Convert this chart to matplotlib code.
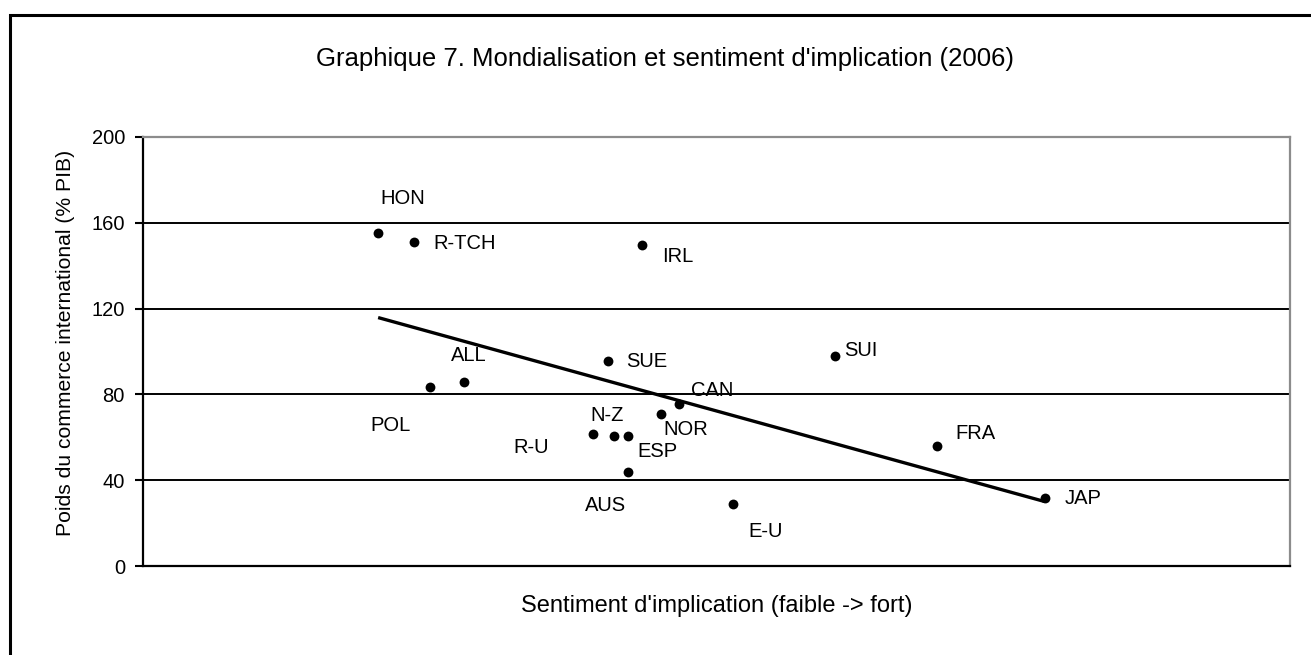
import matplotlib
matplotlib.use("Agg")
import matplotlib.pyplot as plt
from matplotlib.patches import Rectangle
import numpy as np

plt.rcParams['font.family'] = ['Liberation Sans', 'DejaVu Sans']

# ---- data ----
countries = ["HON", "R-TCH", "POL", "ALL", "R-U", "N-Z", "ESP", "AUS",
             "SUE", "IRL", "NOR", "CAN", "E-U", "SUI", "FRA", "JAP"]
sentiment = [20.5, 23.6, 25.0, 28.0, 39.2, 41.1, 42.3, 42.3,
             40.5, 43.5, 45.2, 46.7, 51.4, 60.3, 69.2, 78.6]
commerce = [155.2, 151.0, 83.4, 85.8, 61.5, 60.6, 60.6, 43.8,
            95.6, 149.6, 70.9, 75.5, 28.9, 97.9, 55.9, 31.7]
y_ticks = [0, 40, 80, 120, 160, 200]

title = "Graphique 7. Mondialisation et sentiment d'implication (2006)"
xlabel = "Sentiment d'implication (faible -> fort)"
ylabel = "Poids du commerce international (% PIB)"

# label offsets (points) relative to each marker
label_offsets = {
    "HON": (18, 25), "R-TCH": (37, -0.7), "POL": (-28, -28), "ALL": (3.6, 18.7),
    "R-U": (-44, -9.4), "N-Z": (-5, 15), "ESP": (21, -11.5), "AUS": (-16, -24),
    "SUE": (28.5, -0.7), "IRL": (25.5, -8), "NOR": (17.5, -11), "CAN": (24.5, 10),
    "E-U": (24, -19.5), "SUI": (19, 4.3), "FRA": (28, 9.4), "JAP": (28, -0.7),
}

fig = plt.figure(figsize=(13.11, 6.55), dpi=100)
fig.patch.set_facecolor('white')

# outer chart-area frame (extends past right/bottom edges)
fig.patches.append(Rectangle((10 / 1311, -0.05), 1.2, (640 / 655) + 0.05,
                             transform=fig.transFigure, fill=False,
                             edgecolor='black', linewidth=2.2, zorder=0))

ax = fig.add_axes([143 / 1311, 89 / 655, 1147 / 1311, 429 / 655])
ax.set_xlim(0, 100)
ax.set_ylim(0, 200)
ax.set_yticks(y_ticks)
ax.set_xticks([])
ax.tick_params(axis='y', direction='out', length=6, width=1.5, pad=7,
               labelsize=14.5, colors='black')

for yv in y_ticks[1:-1]:
    ax.axhline(yv, color='black', linewidth=1.4, zorder=1)

ax.spines['left'].set_color('black')
ax.spines['left'].set_linewidth(1.6)
ax.spines['bottom'].set_color('black')
ax.spines['bottom'].set_linewidth(1.6)
ax.spines['top'].set_color('#8c8c8c')
ax.spines['top'].set_linewidth(1.6)
ax.spines['right'].set_color('#8c8c8c')
ax.spines['right'].set_linewidth(1.6)

ax.scatter(sentiment, commerce, s=50, color='black', zorder=3, linewidths=0)

# linear trend
xs = np.array(sentiment)
ys = np.array(commerce)
coef = np.polyfit(xs, ys, 1)
xl = np.array([xs.min(), xs.max()])
ax.plot(xl, np.polyval(coef, xl), color='black', linewidth=2.4, zorder=2,
        solid_capstyle='butt')

for name, xv, yv in zip(countries, sentiment, commerce):
    dx, dy = label_offsets[name]
    ax.annotate(name, (xv, yv), xytext=(dx, dy), textcoords='offset points',
                ha='center', va='center', fontsize=14.5, color='black', zorder=4)

ax.text(0.5, -0.093, xlabel, transform=ax.transAxes, ha='center', va='center',
        fontsize=17)
ax.text(-0.068, 0.52, ylabel, transform=ax.transAxes, ha='center', va='center',
        rotation=90, fontsize=15.2)

fig.text(665 / 1311, (655 - 59) / 655, title, ha='center', va='center',
         fontsize=18.5)

fig.savefig("out.png", dpi=100, facecolor='white')
